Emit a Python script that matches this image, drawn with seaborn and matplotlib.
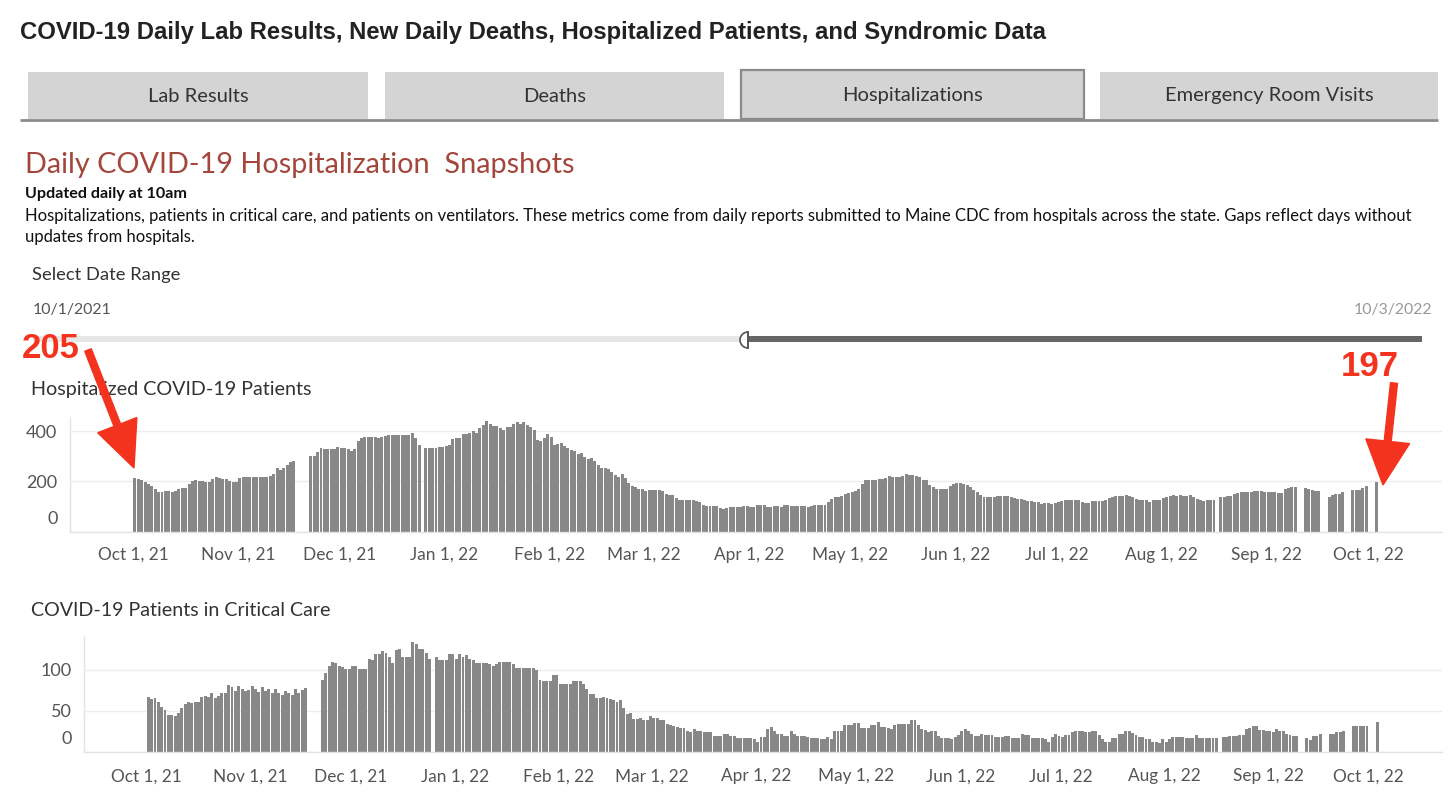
import pandas as pd
import matplotlib
matplotlib.use('Agg')
import matplotlib.pyplot as plt
import matplotlib.dates as mdates
from matplotlib.patches import Rectangle, Wedge, FancyArrow
from matplotlib.transforms import ScaledTranslation
import seaborn as sns

# Hospitalized COVID-19 patients, one value per day (None = no hospital report)
hosp_oct21 = [214, 208, 206, 198, 190, 180, 170, 158, 158, 162, 160, 156, 163, 168, 172, 172,
              188, 203, 205, 202, 200, 198, 196, 210, 218, 212, 210, 210, 200, 198, 198]
hosp_nov21 = [214, 216, 218, 219, 219, 216, 216, 216, 216, 222, 230, 252, 245, 252, 265, 276,
              280, None, None, None, None, 300, 302, 318, 332, 328, 328, 328, 330, 336]
hosp_dec21 = [332, 334, 330, 322, 328, 360, 372, 378, 376, 378, 376, 372, 378, 380, 386, 386,
              386, 386, 386, 386, 386, 392, 372, 345, None, 334, 334, 334, 334, 338, 338]
hosp_jan22 = [340, 345, 368, 372, 372, 388, 390, 392, 402, 392, 412, 425, 440, 430, 422, 422,
              412, 406, 416, 416, 428, 435, 428, 435, 424, 416, 406, 366, 359, 372, 389]
hosp_feb22 = [375, 346, 350, 352, 340, 334, 326, 322, 308, 312, 298, 288, 292, 280, 264, 252,
              252, 248, 236, 226, 218, 228, 212, 195, 182, 176, 171, 171]
hosp_mar22 = [162, 165, 165, 165, 165, 160, 151, 145, 145, 134, 124, 124, 124, 124, 124, 122,
              118, 104, 100, 100, 100, 100, 93, 90, 95, 97, 97, 98, 98, 100, 100]
hosp_apr22 = [98, 98, 104, 107, 104, 98, 98, 100, 100, 98, 106, 104, 100, 100, 100, 100,
              100, 98, 100, 104, 106, 106, 106, 118, 131, 138, 138, 141, 148, 154]
hosp_may22 = [158, 162, 171, 190, 205, 207, 207, 207, 211, 211, 212, 220, 218, 218, 218, 220,
              230, 225, 225, 220, 216, 205, 205, 185, 178, 171, 171, 171, 171, 181, 191]
hosp_jun22 = [194, 192, 188, 184, 176, 166, 156, 146, 138, 138, 138, 138, 140, 140, 140, 140,
              138, 135, 130, 128, 124, 120, 120, 117, 117, 111, 114, 114, 111, 114]
hosp_jul22 = [118, 122, 124, 127, 127, 127, 127, 118, 114, 114, 122, 122, 120, 122, 127, 132,
              138, 141, 141, 143, 145, 141, 138, 128, 124, 124, 124, 118, 127, 127, 127]
hosp_aug22 = [132, 138, 143, 145, 143, 145, 143, 143, 145, 138, 128, 124, 122, 127, 127, 127,
              None, 138, 138, 141, 143, 150, 154, 158, 158, 156, 158, 161, 161, 160, 158]
hosp_sep22 = [158, 158, 156, 155, 152, 170, 175, 177, 177, None, None, 174, 170, 164, 161, 161,
              None, None, 138, 146, 148, 148, 158, None, None, 164, 167, 167, 174, 180]
hosp_oct22 = [None, None, 197]

# COVID-19 patients in critical care, one value per day
icu_oct21 = [67, 64, 65, 61, 55, 51, 45, 45, 43, 47, 53, 58, 60, 59, 60, 60,
             67, 68, 67, 72, 65, 68, 72, 72, 81, 79, 74, 80, 77, 74, 75]
icu_nov21 = [80, 77, 73, 79, 74, 76, 72, 76, 72, 69, 74, 72, 69, 76, 72, 75,
             78, None, None, None, None, 88, 96, 104, 110, 108, 104, 103, 101, 101]
icu_dec21 = [104, 104, 101, 101, 101, 113, 112, 119, 119, 123, 121, 116, 108, 124, 125, 116,
             116, 116, 134, 131, 125, 125, 121, 113, None, 116, 112, 112, 112, 119, 119]
icu_jan22 = [113, 119, 116, 118, 113, 112, 108, 108, 108, 108, 107, 104, 107, 110, 110, 110,
             110, 107, 102, 102, 102, 102, 102, 102, 100, 88, 86, 86, 86, 93, 93]
icu_feb22 = [83, 83, 82, 82, 86, 86, 86, 83, 76, 70, 70, 66, 66, 67, 66, 64,
             63, 60, 63, 53, 46, 47, 40, 40, 41, 38, 38, 43]
icu_mar22 = [41, 41, 38, 38, 34, 32, 31, 30, 29, 29, 25, 24, 27, 25, 25, 24,
             24, 24, 19, 19, 19, 21, 22, 19, 19, 16, 16, 16, 17, 17, 15]
icu_apr22 = [12, 18, 18, 27, 30, 25, 21, 21, 19, 19, 25, 22, 19, 19, 19, 18,
             16, 16, 16, 15, 15, 18, 15, 25, 25, 25, 32, 32, 32, 35]
icu_may22 = [35, 29, 29, 29, 33, 33, 36, 30, 30, 29, 27, 32, 34, 34, 34, 34,
             38, 38, 32, 28, 26, 24, 25, 25, 19, 16, 16, 16, 15, 18, 20]
icu_jun22 = [25, 27, 25, 22, 19, 19, 21, 20, 20, 20, 18, 18, 18, 19, 19, 17,
             17, 17, 22, 20, 20, 17, 17, 17, 16, 15, 12, 18, 22, 19]
icu_jul22 = [18, 20, 20, 24, 25, 25, 25, 24, 24, 25, 25, 20, 15, 12, 12, 17,
             17, 22, 22, 25, 25, 23, 20, 18, 18, 15, 15, 12, 12, 11, 15]
icu_aug22 = [12, 15, 18, 18, 18, 18, 17, 17, 17, 20, 17, 16, 16, 16, 17, 17,
             None, 18, 18, 19, 19, 19, 20, 20, 27, 29, 31, 31, 26, 26, 25]
icu_sep22 = [25, 24, 27, 25, 25, 22, 20, 19, 19, None, None, 17, 14, 19, 19, 22,
             None, None, 22, 22, 24, 24, 25, None, None, 31, 31, 31, 31, 31]
icu_oct22 = [None, None, 36]

hosp = (hosp_oct21 + hosp_nov21 + hosp_dec21 + hosp_jan22 + hosp_feb22 + hosp_mar22 + hosp_apr22
        + hosp_may22 + hosp_jun22 + hosp_jul22 + hosp_aug22 + hosp_sep22 + hosp_oct22)
icu = (icu_oct21 + icu_nov21 + icu_dec21 + icu_jan22 + icu_feb22 + icu_mar22 + icu_apr22
       + icu_may22 + icu_jun22 + icu_jul22 + icu_aug22 + icu_sep22 + icu_oct22)

month_starts = ['2021-10-01', '2021-11-01', '2021-12-01', '2022-01-01', '2022-02-01', '2022-03-01',
                '2022-04-01', '2022-05-01', '2022-06-01', '2022-07-01', '2022-08-01', '2022-09-01',
                '2022-10-01']
month_labels = ['Oct 1, 21', 'Nov 1, 21', 'Dec 1, 21', 'Jan 1, 22', 'Feb 1, 22', 'Mar 1, 22',
                'Apr 1, 22', 'May 1, 22', 'Jun 1, 22', 'Jul 1, 22', 'Aug 1, 22', 'Sep 1, 22',
                'Oct 1, 22']
hosp_ticks = [0, 200, 400]
icu_ticks = [0, 50, 100]

dates = pd.date_range('2021-10-01', '2022-10-03', freq='D')
df = pd.DataFrame({'date': dates,
                   'hosp': pd.to_numeric(pd.Series(hosp, dtype=object), errors='coerce'),
                   'icu': pd.to_numeric(pd.Series(icu, dtype=object), errors='coerce')})
# bar spans the whole day, so centre it at noon
df['x'] = mdates.date2num(df['date']) + 0.5

sns.set_style('white')
plt.rcParams['font.family'] = ['Lato', 'DejaVu Sans']

BAR = '#888888'
AXIS_TXT = '#555555'
TXT = '#333333'
RED = '#f4331f'

fig = plt.figure(figsize=(14.56, 8.08), dpi=100)
W, H = 1456, 808


def px_axes(left, top, right, bottom):
    return fig.add_axes([left / W, 1 - bottom / H, (right - left) / W, (bottom - top) / H])


def style_chart(ax, col, ticks, ymax, pad):
    sub = df.dropna(subset=[col])
    sns.barplot(data=sub, x='x', y=col, native_scale=True, orient='x', width=0.88,
                color=BAR, saturation=1, linewidth=0, errorbar=None, ax=ax)
    x0 = mdates.date2num(pd.Timestamp('2021-10-01'))
    x1 = mdates.date2num(pd.Timestamp('2022-10-01'))
    ax.set_xlim(x0 - 18.7, x1 + 21.9)
    ax.set_ylim(0, ymax)
    ax.set_xticks(mdates.date2num(pd.to_datetime(month_starts)), labels=month_labels)
    ax.set_yticks(ticks, labels=[str(t) for t in ticks])
    ax.set_xlabel('')
    ax.set_ylabel('')
    ax.yaxis.grid(True, color='#ececec', lw=1)
    ax.set_axisbelow(True)
    for s in ['top', 'right']:
        ax.spines[s].set_visible(False)
    for s in ['left', 'bottom']:
        ax.spines[s].set_color('#e4e4e4')
        ax.spines[s].set_linewidth(1)
    ax.tick_params(axis='x', length=4, color='#dddddd', pad=pad, labelsize=12.4, labelcolor=AXIS_TXT)
    ax.tick_params(axis='y', length=0, pad=9, labelsize=13, labelcolor=AXIS_TXT)
    # Tableau nudges the zero label up off the baseline
    lab0 = ax.yaxis.get_major_ticks()[0].label1
    lab0.set_transform(lab0.get_transform() + ScaledTranslation(0, 10 / 72, fig.dpi_scale_trans))


ax1 = px_axes(70, 417, 1442, 531.5)
style_chart(ax1, 'hosp', hosp_ticks, 456, 7)
ax2 = px_axes(84, 637, 1442, 751.5)
style_chart(ax2, 'icu', icu_ticks, 140, 8)

# dashboard furniture in pixel coordinates
ov = fig.add_axes([0, 0, 1, 1], facecolor='none')
ov.set_xlim(0, W)
ov.set_ylim(H, 0)
ov.axis('off')

ov.text(20, 32, 'COVID-19 Daily Lab Results, New Daily Deaths, Hospitalized Patients, and Syndromic Data',
        family='Liberation Sans', weight='bold', fontsize=17.2, color='#222222', ha='left', va='center')

tabs = ['Lab Results', 'Deaths', 'Hospitalizations', 'Emergency Room Visits']
tab_edges = [(28, 368), (385, 724), (741, 1084), (1100, 1438)]
for name, (l, r) in zip(tabs, tab_edges):
    if name == 'Hospitalizations':
        ov.add_patch(Rectangle((l, 70), r - l, 49, fc='#d4d4d4', ec='#8a8a8a', lw=1.6))
    else:
        ov.add_patch(Rectangle((l, 72), r - l, 47, fc='#d4d4d4', ec='none'))
    ov.text((l + r) / 2, 96, name, fontsize=14.5, color=TXT, ha='center', va='center')
ov.plot([20, 1438], [120, 120], color='#8c8c8c', lw=2, solid_capstyle='butt')

ov.text(25, 165, 'Daily COVID-19 Hospitalization  Snapshots', fontsize=20.8, color='#a3463b',
        ha='left', va='center')
ov.text(25, 194, 'Updated daily at 10am', fontsize=11.6, weight='bold', color='#111111',
        ha='left', va='center')
ov.text(25, 216, 'Hospitalizations, patients in critical care, and patients on ventilators. These metrics '
        'come from daily reports submitted to Maine CDC from hospitals across the state. Gaps reflect days without',
        fontsize=12, color='#111111', ha='left', va='center')
ov.text(25, 237, 'updates from hospitals.', fontsize=12, color='#111111', ha='left', va='center')

ov.text(32, 275, 'Select Date Range', fontsize=13.2, color=TXT, ha='left', va='center')
ov.text(33, 310, '10/1/2021', fontsize=11.4, color='#555555', ha='left', va='center')
ov.text(1432, 310, '10/3/2022', fontsize=11.4, color='#999999', ha='right', va='center')
ov.add_patch(Rectangle((33, 336), 712, 6, fc='#e6e6e6', ec='none'))
ov.add_patch(Rectangle((746, 336), 676, 6, fc='#666666', ec='none'))
ov.add_patch(Wedge((748, 340), 8, 90, 270, fc='white', ec='#555555', lw=1.2))
ov.plot([748, 748], [332, 348], color='#555555', lw=1.2)

ov.text(31, 390, 'Hospitalized COVID-19 Patients', fontsize=14.2, color=TXT, ha='left', va='center')
ov.text(31, 610, 'COVID-19 Patients in Critical Care', fontsize=14.1, color=TXT, ha='left', va='center')

# red call-outs
ov.text(22, 348, '205', family='Liberation Sans', weight='bold', fontsize=25, color=RED,
        ha='left', va='center')
ov.text(1341, 366, '197', family='Liberation Sans', weight='bold', fontsize=25, color=RED,
        ha='left', va='center')
ov.add_patch(FancyArrow(88, 350, 46, 118, width=7, head_width=42, head_length=46,
                        length_includes_head=True, color=RED, zorder=5))
ov.add_patch(FancyArrow(1394, 383, -11, 102, width=7, head_width=44, head_length=44,
                        length_includes_head=True, color=RED, zorder=5))

fig.savefig('out.png', dpi=100)
